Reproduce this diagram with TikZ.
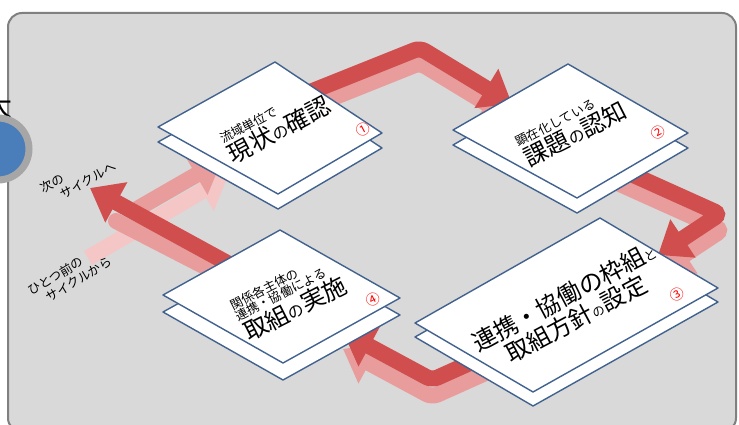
\documentclass[tikz,border=0pt]{standalone}
\usepackage{fontspec}
\setmainfont{Noto Sans CJK JP}
\usetikzlibrary{arrows.meta}

\definecolor{bandred}{RGB}{208,78,78}
\definecolor{bandpink}{RGB}{232,156,156}
\definecolor{bandlight}{RGB}{244,198,198}
\definecolor{cardline}{RGB}{65,98,143}
\definecolor{panelgrey}{RGB}{217,217,217}
\definecolor{panelline}{RGB}{128,128,128}
\definecolor{ringgrey}{RGB}{166,166,166}
\definecolor{dotblue}{RGB}{74,126,187}

\newcommand{\smalljp}{\fontsize{12.5}{15}\selectfont}
\newcommand{\bigjp}{\fontsize{24}{28}\selectfont}
\newcommand{\midjp}{\fontsize{16}{18}\selectfont}

\tikzset{
  band/.style={line width=16pt, rounded corners=6pt, -{Triangle[width=44pt,length=30pt]}},
  redband/.style={band, draw=bandred},
  shadowband/.style={band, draw=bandpink},
  card/.style={draw=cardline, line width=1.4pt, fill=white, line join=round},
  cardtext/.style={align=left, inner sep=0pt, text=black},
  cyclelabel/.style={align=left, inner sep=0pt, font=\smalljp},
  cardnum/.style={inner sep=0pt, text=red, font=\fontsize{14}{14}\selectfont, rotate=28}
}

\begin{document}
\begin{tikzpicture}[x=1pt, y=-1pt]

    \useasboundingbox (0,0) rectangle (739,425);

    % Panel
    \draw[panelline, line width=2pt, fill=panelgrey, rounded corners=14pt] (8,13) rectangle (736,432);

    % Cut-off title and blue dot at the left
    \node[font=\fontsize{28}{28}\selectfont, inner sep=0pt] (title) at (-2,106) {大};
    \node[circle, fill=dotblue, draw=ringgrey, line width=7pt, minimum size=62pt, inner sep=0pt] (dot) at (-2,149) {};

    % Corners of the four cards
    \coordinate (c1l) at (158,127); \coordinate (c1t) at (275,62);
    \coordinate (c1r) at (382,133); \coordinate (c1b) at (278,194);
    \coordinate (c2l) at (453,130); \coordinate (c2t) at (568,64);
    \coordinate (c2r) at (688,133); \coordinate (c2b) at (577,198);
    \coordinate (c3l) at (415,323); \coordinate (c3t) at (600,218);
    \coordinate (c3r) at (718,288); \coordinate (c3b) at (533,392);
    \coordinate (c4l) at (163,295); \coordinate (c4t) at (280,230);
    \coordinate (c4r) at (400,298); \coordinate (c4b) at (283,363);

    % Points of the arrows
    \coordinate (a1s) at (300,96);  \coordinate (a1m) at (420,48);  \coordinate (a1e) at (512,104);
    \coordinate (a2s) at (600,160); \coordinate (a2m) at (720,214); \coordinate (a2e) at (658,255);
    \coordinate (a3s) at (510,345); \coordinate (a3m) at (432,380); \coordinate (a3e) at (343,332);
    \coordinate (a4s) at (240,270); \coordinate (a4e) at (90,188);
    \coordinate (s4s) at (116,221); \coordinate (s4e) at (250,290);
    \coordinate (p1s) at (137,209); \coordinate (p1e) at (222,160);
    \coordinate (p2s) at (88,258);  \coordinate (p2e) at (228,176);

    % Arrow from the previous cycle
    \draw[band, draw=bandlight] (p2s) -- (p2e);
    \draw[shadowband] (p1s) -- (p1e);

    % Shadows of the red arrows
    \draw[shadowband] ([yshift=-15pt]a1s) -- ([yshift=-15pt]a1m) -- ([yshift=-15pt]a1e);
    \draw[shadowband] ([xshift=2pt,yshift=-16pt]a2s) -- ([xshift=2pt,yshift=-16pt]a2m) -- ([xshift=2pt,yshift=-16pt]a2e);
    \draw[shadowband] ([yshift=-17pt]a3s) -- ([yshift=-17pt]a3m) -- ([yshift=-17pt]a3e);
    \draw[line width=16pt, draw=bandpink, line cap=round] (s4s) -- (s4e);

    % Red arrows
    \draw[redband] (a1s) -- (a1m) -- (a1e);
    \draw[redband] (a2s) -- (a2m) -- (a2e);
    \draw[redband] (a3s) -- (a3m) -- (a3e);
    \draw[redband] (a4s) -- (a4e);

    % Lower sheets of the cards
    \foreach \c/\dy in {1/15, 2/15, 3/14, 4/17} {
        \draw[card] ([yshift=-\dy pt]c\c l) -- ([yshift=-\dy pt]c\c t) -- ([yshift=-\dy pt]c\c r) -- ([yshift=-\dy pt]c\c b) -- cycle;
    }

    % Upper sheets of the cards
    \foreach \c in {1,2,3,4} {
        \draw[card] (c\c l) -- (c\c t) -- (c\c r) -- (c\c b) -- cycle;
    }

    % Card texts
    \node[cardtext, rotate=28] (t1) at (276,124)
        {{\smalljp 流域単位で}\\[1pt]{\bigjp 現状{\midjp の}確認}};
    \node[cardtext, rotate=27] (t2) at (572,128)
        {{\smalljp 顕在化している}\\[1pt]{\bigjp 課題{\midjp の}認知}};
    \node[cardtext, align=center, rotate=28] (t3) at (570,308)
        {{\bigjp 連携・協働の枠組{\smalljp と}}\\[2pt]{\bigjp 取組方針{\smalljp の}設定}};
    \node[cardtext, rotate=27] (t4) at (289,297)
        {{\smalljp 関係各主体の}\\{\smalljp 連携・協働による}\\[1pt]{\bigjp 取組{\midjp の}実施}};

    % Card numbers
    \node[cardnum] (n1) at (363,130) {①};
    \node[cardnum] (n2) at (658,133) {②};
    \node[cardnum] (n3) at (677,295) {③};
    \node[cardnum] (n4) at (373,300) {④};

    % Cycle labels
    \node[cyclelabel, rotate=29] (next) at (78,177) {次の\\\hspace*{14pt}サイクルへ};
    \node[cyclelabel, rotate=31] (prev) at (70,276) {ひとつ前の\\\hspace*{12pt}サイクルから};

\end{tikzpicture}
\end{document}
